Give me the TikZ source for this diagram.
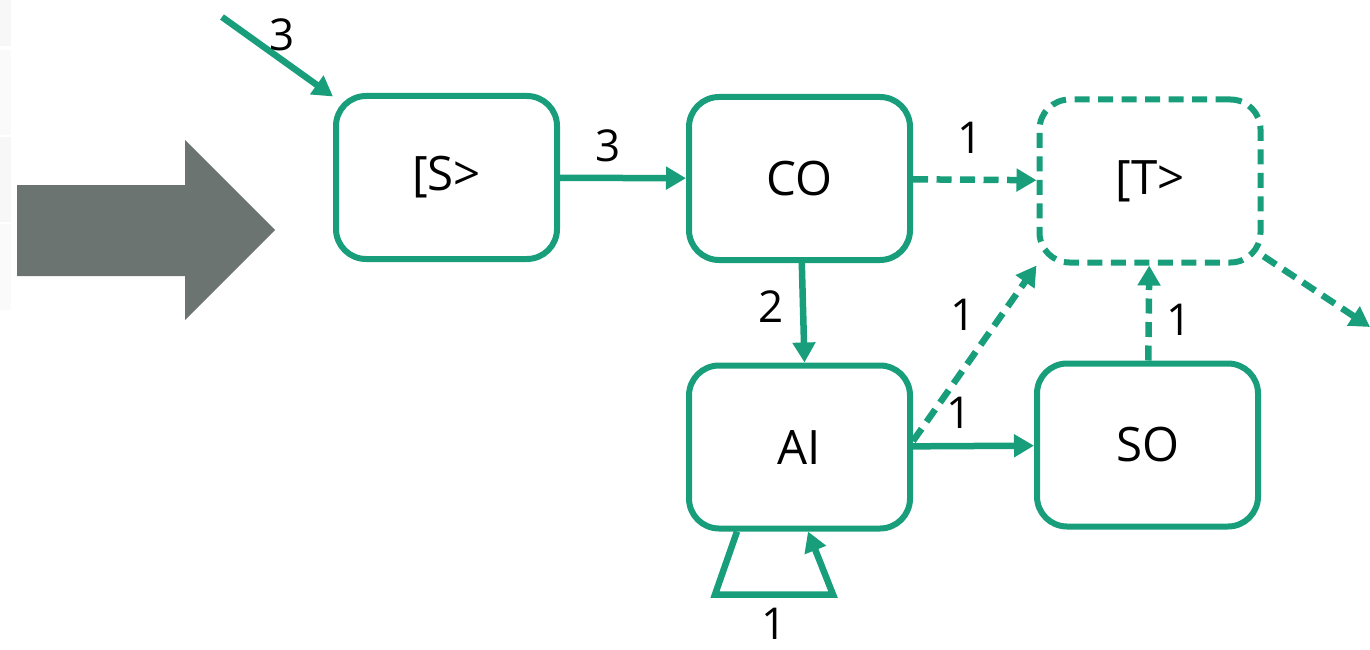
\documentclass[tikz,border=0pt]{standalone}
\usepackage{fontspec}
\setmainfont{Open Sans}
\usepackage{tikz}
\usetikzlibrary{
    positioning,
    arrows.meta
}
\definecolor{verde}{RGB}{24,158,122}
\definecolor{gris}{RGB}{108,116,113}
\tikzset{
    >={Triangle[length=0.4cm,width=0.44cm]},
    caja/.style={
        draw=verde,
        line width=0.12cm,
        rounded corners=0.6cm,
        minimum width=4.42cm,
        minimum height=3.26cm,
        font=\fontsize{27}{32}\selectfont
    },
    arco/.style={
        ->,
        draw=verde,
        line width=0.13cm
    },
    punteado/.style={
        dash pattern=on 0.3cm off 0.17cm
    }
}

\begin{document}
\begin{tikzpicture}[
    font=\fontsize{25}{30}\selectfont,
    line width=0.12cm
]
    \useasboundingbox (0,0) rectangle (27.4,12.98);

    % Tabla de fondo
    \fill[gray!6] (0,12.06) rectangle (0.22,12.98);
    \fill[gray!4] (0,10.28) rectangle (0.22,11.98);
    \fill[gray!6] (0,8.54)  rectangle (0.22,10.24);
    \fill[gray!4] (0,6.78)  rectangle (0.22,8.5);

    % Flecha gris
    \fill[gris] (0.34,7.46) -- (3.7,7.46) -- (3.7,6.58) -- (5.5,8.38)
        -- (3.7,10.18) -- (3.7,9.28) -- (0.34,9.28) -- cycle;

    % Lugares y transiciones
    \node[caja]           (s)  at (8.93,9.43)  {[S>};
    \node[caja]           (co) at (15.99,9.41) {CO};
    \node[caja, punteado] (t)  at (23.0,9.36)  {[T>};
    \node[caja]           (ai) at (15.99,4.04) {AI};
    \node[caja]           (so) at (22.95,4.08) {SO};

    % Extremos libres
    \coordinate (in)  at (4.44,12.64);
    \coordinate (out) at (27.4,6.44);

    % Arcos
    \draw[arco] (in) -- node[above, pos=0.54] {3} (s);
    \draw[arco] (s) -- node[above=4pt, pos=0.38] {3} (co);
    \draw[arco, punteado] (co) -- node[above=10pt, pos=0.46] {1} (t);
    \draw[arco] (co) -- node[left=6pt, pos=0.44] {2} ([xshift=0.1cm]ai.north);
    \draw[arco, punteado] ([yshift=0.12cm]ai.east)
        -- node[left=10pt, pos=0.72] {1} (t.south west);
    \draw[arco] (ai) -- node[above=5pt, pos=0.38] {1} (so);
    \draw[arco, punteado] (so) -- node[right=5pt, pos=0.43] {1} (t);
    \draw[arco, punteado] (t) -- (out);

    % Bucle de AI
    \draw[arco] ([xshift=-1.25cm]ai.south) -- ++(-0.44,-1.26)
        -- ++(2.36,0) node[midway, below=6pt, inner sep=0pt] {1}
        -- ([xshift=0.17cm]ai.south);

\end{tikzpicture}
\end{document}
